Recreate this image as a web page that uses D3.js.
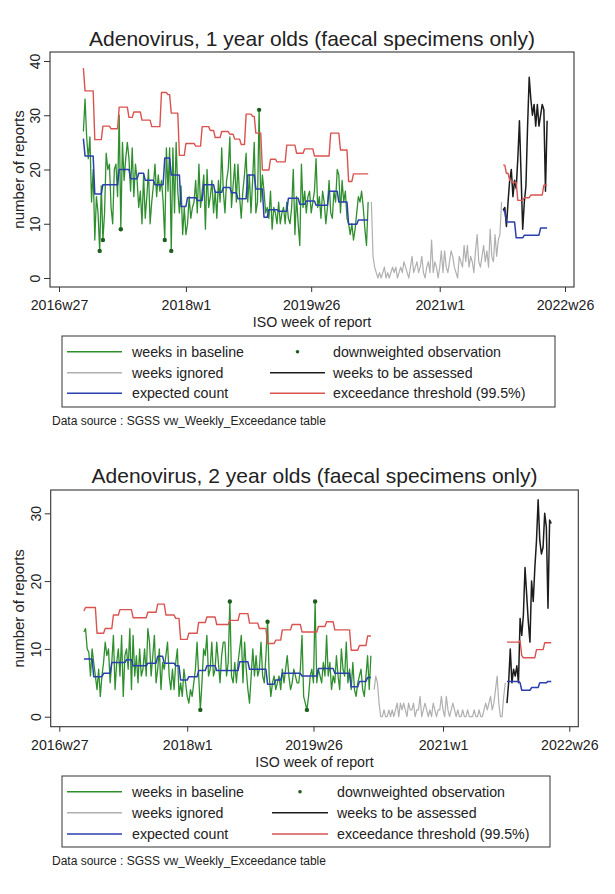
<!DOCTYPE html>
<html><head><meta charset="utf-8">
<script src="https://cdn.jsdelivr.net/npm/d3@7"></script>
<style>
body{margin:0;background:#fff}
text{font-family:"Liberation Sans",Arial,sans-serif;fill:#222}
</style></head>
<body><svg id="chart" width="615" height="894"></svg>
<script>
// ---------------- DATA ----------------
const tickLabels = ["2016w27","2018w1","2019w26","2021w1","2022w26"];
const tickWeeks  = [2938, 3016, 3093, 3172, 3249];   // week index of each tick
const baselineStartWeek = 2953;
const ignoredStartWeek  = 3130;
const assessedStartWeek = 3211;

const legendLabels = ["weeks in baseline","downweighted observation","weeks ignored","weeks to be assessed","expected count","exceedance threshold (99.5%)"];
const sourceNote = "Data source : SGSS vw_Weekly_Exceedance table";

// ---- Panel 1 : 1 year olds ----
const title1 = "Adenovirus, 1 year olds (faecal specimens only)";
const yTicks1 = [0,10,20,30,40];
const baseline1 = [
 27,33,26,22,26,14,20,7,15,12,
 5,17,7,12,23,20,21,13,10,20,
 21,15,30,9,25,18,22,25,22,16,
 24,15,21,18,13,16,10,19,11,15,
 20,10,14,17,21,15,19,16,18,14,
 7,24,16,24,5,24,12,25,16,12,
 17,8,13,8,10,15,11,13,14,18,
 12,21,13,16,19,9,20,13,15,18,
 12,16,11,18,14,24,16,12,18,20,
 26,13,17,21,14,21,15,11,16,19,
 23,14,19,12,18,25,12,14,31,14,
 19,16,12,13,11,16,9,13,12,10,
 14,10,12,13,10,14,11,10,13,20,
 8,15,10,6,21,13,16,12,15,16,
 12,14,16,22,13,15,11,16,14,10,
 13,18,12,11,16,14,20,19,12,18,
 14,16,11,10,8,10,7,9,12,15,
 14,16,13,9,6,14];
const downweightedIdx1 = [10,12,23,50,54,108];
const ignored1 = [
 14,4,2,1,0,1,0,1,2,0,
 1,0,1,2,1,2,0,1,2,1,
 3,2,1,0,2,4,1,2,3,1,
 2,4,1,0,2,3,1,7,1,3,
 2,0,2,5,1,5,2,1,3,5,
 4,2,1,0,4,3,2,6,3,6,
 2,4,3,1,5,8,3,2,4,6,
 3,5,2,9,4,3,8,4,7,8,14];
const assessed1 = [12.5,13,9.5,14,18,20,15,18,16.5,22,29,19,9,14,17,28,37,33,30,32,28,32,28,30,32,31,16,29];
// expected / threshold in the baseline period as step levels and their lengths (weeks)
const expLevels1 = [25.7,22.5,15.5,17.2,20.0,18.3,19.3,18.0,17.2,22.1,19.0,13.2,14.8,14.3,17.2,15.8,16.7,15.7,14.6,19.0,16.4,11.2,12.6,12.3,14.7,13.6,14.2,13.4,16.0,14.0,9.9,10.7];
const expRuns1   = [1,6,5,10,7,5,4,6,6,4,6,4,6,4,7,5,5,4,6,5,5,3,6,6,7,4,6,8,6,6,6,7];
const thrLevels1 = [38.7,34.5,25.5,28.0,27.5,31.5,29.6,30.6,29.1,27.9,34.2,33.8,30.4,22.6,24.8,24.3,27.9,27.2,25.9,27.0,26.5,25.6,24.6,30.2,29.8,26.7,19.9,21.9,21.4,24.5,23.0,23.8,22.5,26.7,23.6,17.8,19.2];
const thrRuns1   = [1,6,5,5,5,6,3,5,6,6,4,2,5,4,6,4,5,3,4,5,3,4,3,4,2,4,5,4,6,6,5,6,10,6,5,3,10];
const expAssessed1 = [12.4,12.4,10.3,10.3,10.3,10.3,10.3,10.3,7.4,7.4,7.4,7.4,7.4,7.9,7.9,7.9,7.9,7.9,7.9,7.9,7.9,7.9,7.9,9.2,9.2,9.2,9.2,9.2];
const thrAssessed1 = [20.8,20.8,19.3,19.3,18.0,18.0,17.6,17.6,17.6,14.3,14.3,14.3,14.3,14.8,14.8,14.8,14.8,15.3,15.3,15.3,15.3,15.3,15.3,15.3,15.3,17.1,17.1,17.1];

// ---- Panel 2 : 2 year olds ----
const title2 = "Adenovirus, 2 year olds (faecal specimens only)";
const yTicks2 = [0,10,20,30];
const baseline2 = [
 12.5,13,10,9.5,6,10,8,6,4,7,
 3,6,8,11,9,10,5,8,12,4,
 8,10,6,12,3,9,10,7,13,4,
 12,6,9,5,10,6,7,10,6,13,
 11,6,9,12,5,7,10,4,8,7,
 9,11,6,4,7,4,8,10,3,5,
 3,7,5,3,2,4,3,5,7,11,
 6,1,5,10,9,12,6,7,11,6,
 7,11,8,5,9,11,11,6,8,17,
 6,5,8,5,8,10,12,5,11,7,
 4,2,6,10,6,9,6,7,11,6,
 5,9,14,6,3,5,6,4,5,6,
 4,7,5,7,9,6,4,5,7,6,
 5,5,7,12,3,2,1,3,6,7,
 5,17,5,7,6,5,8,6,12,6,
 8,4,6,5,9,6,4,10,7,6,
 11,5,7,4,8,4,3,5,6,7,
 4,3,6,9,4,9];
const downweightedIdx2 = [71,89,112,136,141];
const ignored2 = [
 4,6,5,2,0,0,1,0,0,1,
 0,1,0,1,2,0,2,1,2,1,
 0,2,1,1,2,0,1,1,3,0,
 1,2,1,0,1,0,2,1,0,1,
 1,3,1,0,3,1,0,1,2,1,
 0,1,0,0,1,0,0,1,0,0,
 0,1,0,0,1,0,0,1,2,1,
 2,3,1,2,4,6,2,0,0,3,5];
const assessed2 = [2,5,10,5,7,6,7.5,5,14.5,12,15,22,18,14,11,20,17,22,26,32,26,24,25,30,28,16,29,28.5];
const expLevels2 = [8.5,5.9,6.4,8.0,8.4,7.5,7.9,8.9,7.9,7.5,5.4,5.9,6.8,7.5,6.8,8.1,7.0,4.8,5.4,6.4,6.0,7.1,6.4,4.4,5.2,5.8];
const expRuns2   = [6,6,5,9,4,9,6,4,7,3,5,6,5,6,14,6,11,5,4,12,10,10,10,5,5,3];
const thrLevels2 = [15.6,16.1,12.3,13.0,15.0,15.8,14.6,15.4,16.6,15.0,14.5,11.4,12.3,13.9,14.7,13.6,14.2,15.2,13.8,13.0,10.8,11.3,12.8,13.6,12.5,13.3,14.0,12.8,9.8,10.5,11.9];
const thrRuns2   = [1,7,5,5,4,8,9,6,5,6,3,5,6,5,6,8,6,6,6,5,5,4,6,6,10,5,5,10,5,5,3];
const expAssessed2 = [5.2,5.2,5.2,5.2,5.2,5.2,5.2,5.2,5.0,3.9,3.9,3.9,3.9,3.9,3.9,4.3,4.3,4.3,4.3,4.3,5.0,5.0,5.0,5.0,5.0,5.2,5.2,5.2];
const thrAssessed2 = [11,11,11,11,11,11,11,11,11.2,9,8.7,8.7,8.7,8.7,8.7,8.7,8.7,8.7,9.9,9.9,9.9,9.9,9.9,10.9,10.9,10.9,10.9,10.9];

// ---------------- DRAWING ----------------
const COL = {green:"#2f8f2f", gray:"#b0b0b0", black:"#1c1c1c", blue:"#2b3fae", red:"#d9534f", dot:"#1d5e1d", frame:"#333"};
const svg = d3.select("#chart");

function expand(levels, runs){ const out=[]; levels.forEach((v,k)=>{ for(let r=0;r<runs[k];r++) out.push(v); }); return out; }
function series(vals, start){ return vals.map((v,i)=>({t:start+i, v})); }

function drawPanel(p){
  const g = svg.append("g");
  const x = d3.scaleLinear().domain([tickWeeks[0], tickWeeks[tickWeeks.length-1]]).range([p.x0, p.x1]);
  const y = d3.scaleLinear().domain([0, p.yTicks[p.yTicks.length-1]]).range([p.y0, p.y1]);
  const L = p.frame;

  g.append("text").attr("x",(L.l+L.r)/2).attr("y",p.titleY).attr("text-anchor","middle")
   .style("font-size","21px").text(p.title);

  g.append("rect").attr("x",L.l).attr("y",L.t).attr("width",L.r-L.l).attr("height",L.b-L.t)
   .attr("fill","#fff").attr("stroke",COL.frame).attr("stroke-width",1.1);

  // y axis
  const ya = g.append("g").attr("transform",`translate(${L.l},0)`)
    .call(d3.axisLeft(y).tickValues(p.yTicks).tickSize(6).tickFormat(d3.format("d")));
  ya.select(".domain").remove();
  ya.selectAll("line").attr("stroke",COL.frame);
  ya.selectAll("text").attr("x",null).attr("dy",null).attr("text-anchor","middle")
    .attr("transform","translate(-10,0) rotate(-90)")
    .attr("y",0).style("font-size","14px").style("font-family",'"Liberation Sans",Arial,sans-serif').attr("fill","#222");

  // x axis
  const xa = g.append("g").attr("transform",`translate(0,${L.b})`)
    .call(d3.axisBottom(x).tickValues(tickWeeks).tickSize(5).tickFormat((d,i)=>tickLabels[i]));
  xa.select(".domain").remove();
  xa.selectAll("line").attr("stroke",COL.frame);
  xa.selectAll("text").attr("y",null).attr("dy",null).attr("transform","translate(0,23)")
    .style("font-size","14.2px").style("font-family",'"Liberation Sans",Arial,sans-serif').attr("fill","#222");

  g.append("text").attr("x",(L.l+L.r)/2).attr("y",L.b+40).attr("text-anchor","middle")
   .style("font-size","14.2px").text("ISO week of report");
  g.append("text").attr("transform",`translate(24,${(L.t+L.b)/2}) rotate(-90)`).attr("text-anchor","middle")
   .style("font-size","15px").text("number of reports");

  const line = d3.line().x(d=>x(d.t)).y(d=>y(d.v));
  const path = (data,color,w)=> g.append("path").datum(data).attr("d",line).attr("fill","none")
     .attr("stroke",color).attr("stroke-width",w).attr("stroke-linejoin","round");

  const base = series(p.baseline, baselineStartWeek);
  path(base, COL.green, 1.3);
  path(series(p.ignored, ignoredStartWeek), COL.gray, 1.2);
  path(series(p.assessed, assessedStartWeek), COL.black, 1.5);
  path(series(expand(p.expLevels,p.expRuns), baselineStartWeek), COL.blue, 1.5);
  path(series(p.expAssessed, assessedStartWeek), COL.blue, 1.5);
  path(series(expand(p.thrLevels,p.thrRuns), baselineStartWeek), COL.red, 1.4);
  path(series(p.thrAssessed, assessedStartWeek), COL.red, 1.4);

  g.selectAll("circle.dw").data(p.dwIdx.map(i=>base[i])).enter().append("circle")
   .attr("cx",d=>x(d.t)).attr("cy",d=>y(d.v)).attr("r",2.2).attr("fill",COL.dot);

  // legend
  const lg = p.legend;
  g.append("rect").attr("x",lg.l).attr("y",lg.t).attr("width",lg.r-lg.l).attr("height",lg.b-lg.t)
   .attr("fill","#fff").attr("stroke",COL.frame).attr("stroke-width",1);
  const items = [
    {c:COL.green, type:"line"},{c:COL.dot, type:"dot"},
    {c:COL.gray, type:"line"},{c:COL.black, type:"line"},
    {c:COL.blue, type:"line"},{c:COL.red, type:"line"}];
  items.forEach((it,k)=>{
    const col = k%2, row = Math.floor(k/2);
    const ly = lg.rows[row];
    const lx0 = col===0 ? lg.c0[0] : lg.c1[0], lx1 = col===0 ? lg.c0[1] : lg.c1[1];
    if(it.type==="line") g.append("line").attr("x1",lx0).attr("x2",lx1).attr("y1",ly).attr("y2",ly)
        .attr("stroke",it.c).attr("stroke-width",1.4);
    else g.append("circle").attr("cx",(lx0+lx1)/2).attr("cy",ly).attr("r",1.8).attr("fill",it.c);
    g.append("text").attr("x", col===0 ? lg.tx0 : lg.tx1).attr("y",ly+5).style("font-size","14.2px").text(legendLabels[k]);
  });
  g.append("text").attr("x",52).attr("y",p.sourceY).style("font-size","12px").text(sourceNote);
}

drawPanel({
  title:title1, titleY:46, yTicks:yTicks1,
  x0:59, x1:565, y0:278, y1:61,
  frame:{l:50,r:574,t:52,b:287},
  baseline:baseline1, dwIdx:downweightedIdx1, ignored:ignored1, assessed:assessed1,
  expLevels:expLevels1, expRuns:expRuns1, thrLevels:thrLevels1, thrRuns:thrRuns1,
  expAssessed:expAssessed1, thrAssessed:thrAssessed1,
  legend:{l:62,r:555,t:336,b:407, rows:[351.7,372.7,393.3], c0:[67,122], c1:[270,325], tx0:132, tx1:333},
  sourceY:425
});
drawPanel({
  title:title2, titleY:483, yTicks:yTicks2,
  x0:59.3, x1:569.3, y0:716.7, y1:513.3,
  frame:{l:50.7,r:578.3,t:490,b:726.7},
  baseline:baseline2, dwIdx:downweightedIdx2, ignored:ignored2, assessed:assessed2,
  expLevels:expLevels2, expRuns:expRuns2, thrLevels:thrLevels2, thrRuns:thrRuns2,
  expAssessed:expAssessed2, thrAssessed:thrAssessed2,
  legend:{l:62,r:550,t:776,b:847, rows:[791.7,812.7,834], c0:[67,122], c1:[272,328], tx0:132, tx1:337},
  sourceY:865
});
</script>
</body></html>
